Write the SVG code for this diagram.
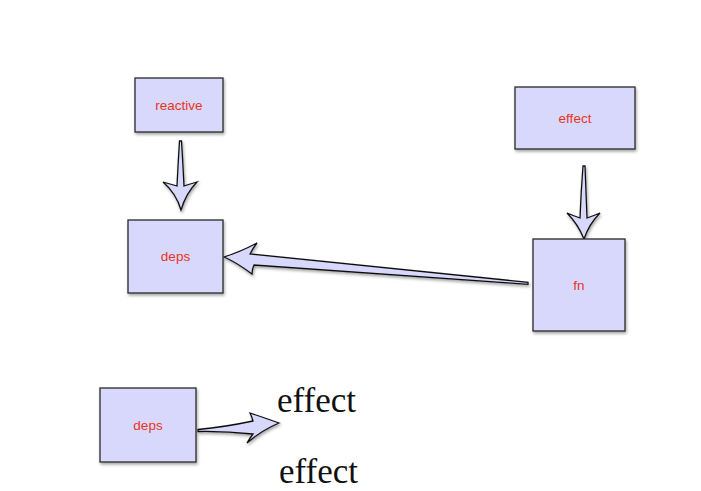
<svg xmlns="http://www.w3.org/2000/svg" width="701" height="491" viewBox="0 0 701 491">
<defs>
<filter id="sh" x="-20%" y="-20%" width="140%" height="140%">
<feDropShadow dx="1" dy="2" stdDeviation="1.5" flood-color="#000" flood-opacity="0.35"/>
</filter>
<style>
.box{fill:#d8d8fc;stroke:#2a2a2a;stroke-width:1.3;filter:url(#sh)}
.lbl{font-family:"Liberation Sans",Arial,sans-serif;font-size:13.5px;fill:#e8341f;text-anchor:middle}
.arr{fill:#d8d8fc;stroke:#111;stroke-width:1.3;stroke-linejoin:miter;filter:url(#sh)}
.big{font-family:"Liberation Serif","Times New Roman",serif;font-size:35px;fill:#111}
</style>
</defs>
<rect width="701" height="491" fill="#fff"/>
<g id="connectors">
<path class="arr" d="M179.5,141 L181.5,141 Q183,165 184,186 Q190,184 197,182 Q186,193 181,210 Q176,193 163,182 Q170,184 177,186 Q178,165 179.5,141 Z"/>
<path class="arr" d="M583,166 L585,166 Q586,192 587,218 Q593,216 600,213 Q589,224 584,239 Q578,224 567,213 Q574,216 580,218 Q581,192 583,166 Z"/>
<path class="arr" d="M528,282.3 L528,284.3 Q390,274 254,265 Q252,269 252,274 Q236,262 224,257 Q240,252 257,243 Q253,248 250,254 Q390,268 528,282.3 Z"/>
<path class="arr" d="M198,429.5 L198,431.5 Q225,431 253,434 Q250,438 247,443 Q262,430 279,423 Q265,418 250,413 Q252,417 253,421 Q225,427 198,429.5 Z"/>
</g>
<g id="reactive"><rect class="box" x="135" y="78" width="88" height="54"/><text class="lbl" x="179" y="109.5">reactive</text></g>
<g id="deps"><rect class="box" x="128" y="220" width="95" height="73"/><text class="lbl" x="175.5" y="260.5">deps</text></g>
<g id="effect"><rect class="box" x="515" y="87" width="120" height="62"/><text class="lbl" x="575" y="122.5">effect</text></g>
<g id="fn"><rect class="box" x="533" y="239" width="92" height="92"/><text class="lbl" x="579" y="289.5">fn</text></g>
<g id="deps2"><rect class="box" x="100" y="388" width="96" height="74"/><text class="lbl" x="148" y="429.5">deps</text></g>
<text class="big" x="277" y="412">effect</text>
<text class="big" x="279" y="483">effect</text>
</svg>
